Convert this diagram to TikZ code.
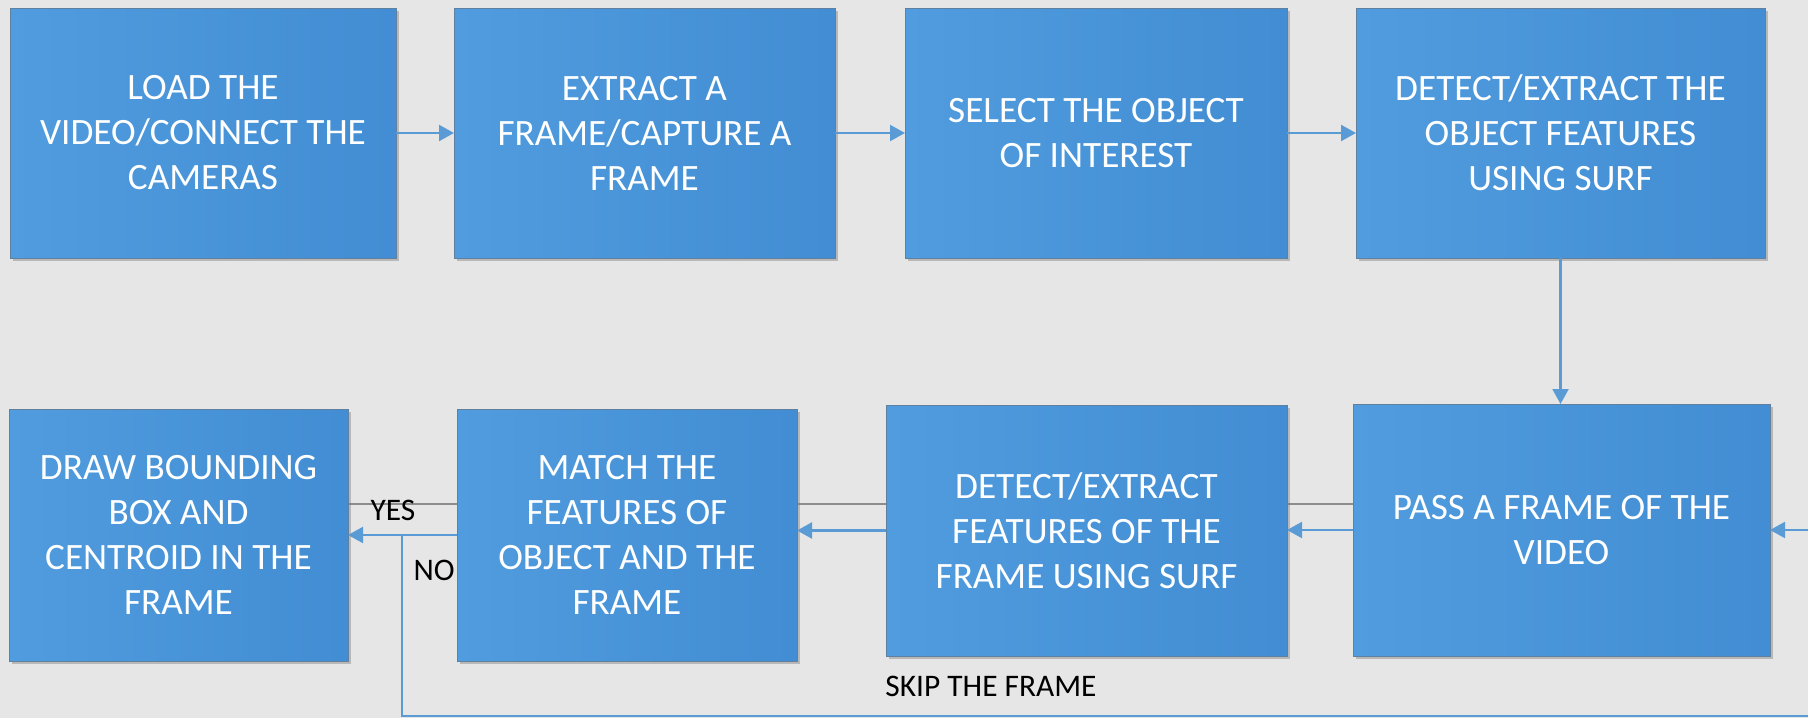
\documentclass[tikz,border=0pt]{standalone}
\usepackage{fontspec}
\setmainfont{Carlito}
\usepackage{tikz}
\usetikzlibrary{arrows.meta}
\usetikzlibrary{shadows}
\definecolor{PageGray}{RGB}{230,230,230}
\definecolor{BoxLight}{RGB}{80,156,222}
\definecolor{BoxDark}{RGB}{66,141,211}
\definecolor{BoxEdge}{RGB}{96,128,160}
\definecolor{FlowBlue}{RGB}{91,155,213}
\definecolor{RuleGray}{RGB}{140,140,140}

\begin{document}
\begin{tikzpicture}[
x=0.5pt, y=-0.5pt,
StepBox/.style={rectangle, inner sep=0pt, outer sep=0pt, left color=BoxLight, right color=BoxDark, draw=BoxEdge, line width=0.4pt, text=white, align=center, font=\fontsize{18.6}{22.5}\selectfont, drop shadow={shadow xshift=1.5pt, shadow yshift=-1.5pt, opacity=0.45}},
BoxSize/.style 2 args={minimum width=#1*0.5pt, minimum height=#2*0.5pt},
Flow/.style={draw=FlowBlue, line width=1.1pt},
FlowArrow/.style={Flow, -{Triangle[length=7.5pt, width=8pt]}},
GrayRule/.style={draw=RuleGray, line width=0.8pt},
Remark/.style={text=black, inner sep=0pt, font=\fontsize{15.7}{18}\selectfont}
]

\clip (0,0) rectangle (1808,718);
\fill[PageGray] (0,0) rectangle (1808,718);

% first row
\node[StepBox, BoxSize={386}{250}] (load) at (203,133) {LOAD THE\\VIDEO/CONNECT THE\\CAMERAS};
\node[StepBox, BoxSize={381}{250}] (extract) at (644.5,133) {EXTRACT A\\FRAME/CAPTURE A\\FRAME};
\node[StepBox, BoxSize={382}{250}] (select) at (1096,133) {SELECT THE OBJECT\\OF INTEREST};
\node[StepBox, BoxSize={409}{250}] (objfeat) at (1560.5,133) {DETECT/EXTRACT THE\\OBJECT FEATURES\\USING SURF};

% gray rule behind the second row
\draw[GrayRule] (348,504) -- (1353,504);

% second row
\node[StepBox, BoxSize={339}{252}] (bbox) at (178.5,535) {DRAW BOUNDING\\BOX AND\\CENTROID IN THE\\FRAME};
\node[StepBox, BoxSize={340}{252}] (match) at (627,535) {MATCH THE\\FEATURES OF\\OBJECT AND THE\\FRAME};
\node[StepBox, BoxSize={401}{251}] (framefeat) at (1086.5,530.5) {DETECT/EXTRACT\\FEATURES OF THE\\FRAME USING SURF};
\node[StepBox, BoxSize={417}{252}] (pass) at (1561.5,530) {PASS A FRAME OF THE\\VIDEO};

% arrows
\draw[FlowArrow] (load) -- (extract);
\draw[FlowArrow] (extract) -- (select);
\draw[FlowArrow] (select) -- (objfeat);
\draw[FlowArrow] (objfeat.south) -- (objfeat.south |- pass.north);
\draw[FlowArrow] (pass.west) -- (pass.west -| framefeat.east);
\draw[FlowArrow] (framefeat.west) -- (framefeat.west -| match.east);
\draw[FlowArrow] (match.west) -- (bbox.east);

% skip loop
\coordinate (NoTurn) at (402,535);
\coordinate (LoopEnd) at (1816,716);
\draw[FlowArrow] (NoTurn) |- (LoopEnd) |- (pass.east);

\node[Remark] (yes) at (393,510) {YES};
\node[Remark, anchor=east] (no) at (455,570) {NO};
\node[Remark] (skip) at (991,686) {SKIP THE FRAME};

\end{tikzpicture}
\end{document}
